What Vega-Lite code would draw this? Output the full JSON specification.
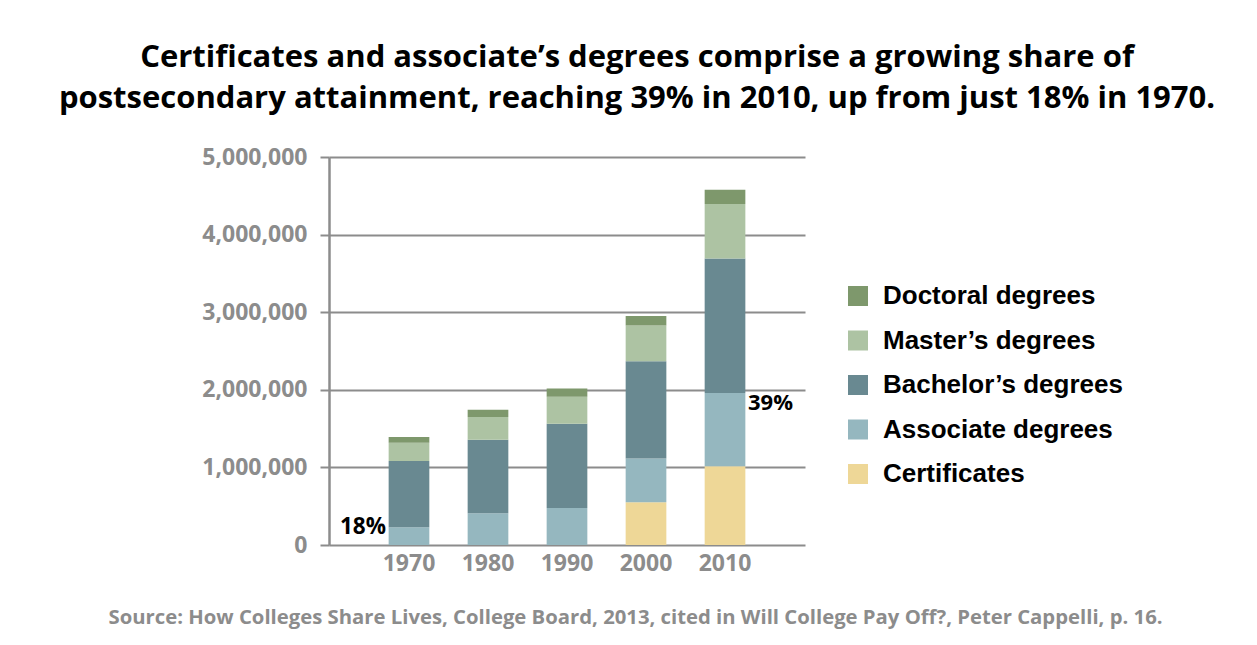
{
  "$schema": "https://vega.github.io/schema/vega-lite/v6.json",
  "autosize": {"type": "none"},
  "width": 476,
  "height": 388,
  "padding": {"left": 329, "top": 157, "right": 452, "bottom": 100},
  "background": "white",
  "title": {
    "text": ["Certificates and associate’s degrees comprise a growing share of", "postsecondary attainment, reaching 39% in 2010, up from just 18% in 1970."],
    "anchor": "middle",
    "frame": "group",
    "dx": 70,
    "offset": 31,
    "font": "Open Sans",
    "fontWeight": "bold",
    "fontSize": 31,
    "lineHeight": 41,
    "color": "black"
  },
  "config": {
    "view": {"stroke": null},
    "legend": {"padding": 0}
  },
  "layer": [
    {
      "data": {
        "values": [
          {"year": "1970", "degree": "Associate degrees", "rank": 2, "count": 228000},
          {"year": "1970", "degree": "Bachelor’s degrees", "rank": 3, "count": 853000},
          {"year": "1970", "degree": "Master’s degrees", "rank": 4, "count": 237000},
          {"year": "1970", "degree": "Doctoral degrees", "rank": 5, "count": 73000},
          {"year": "1980", "degree": "Associate degrees", "rank": 2, "count": 409000},
          {"year": "1980", "degree": "Bachelor’s degrees", "rank": 3, "count": 948000},
          {"year": "1980", "degree": "Master’s degrees", "rank": 4, "count": 292000},
          {"year": "1980", "degree": "Doctoral degrees", "rank": 5, "count": 95000},
          {"year": "1990", "degree": "Associate degrees", "rank": 2, "count": 478000},
          {"year": "1990", "degree": "Bachelor’s degrees", "rank": 3, "count": 1085000},
          {"year": "1990", "degree": "Master’s degrees", "rank": 4, "count": 349000},
          {"year": "1990", "degree": "Doctoral degrees", "rank": 5, "count": 104000},
          {"year": "2000", "degree": "Certificates", "rank": 1, "count": 551000},
          {"year": "2000", "degree": "Associate degrees", "rank": 2, "count": 564000},
          {"year": "2000", "degree": "Bachelor’s degrees", "rank": 3, "count": 1254000},
          {"year": "2000", "degree": "Master’s degrees", "rank": 4, "count": 460000},
          {"year": "2000", "degree": "Doctoral degrees", "rank": 5, "count": 121000},
          {"year": "2010", "degree": "Certificates", "rank": 1, "count": 1016000},
          {"year": "2010", "degree": "Associate degrees", "rank": 2, "count": 944000},
          {"year": "2010", "degree": "Bachelor’s degrees", "rank": 3, "count": 1731000},
          {"year": "2010", "degree": "Master’s degrees", "rank": 4, "count": 702000},
          {"year": "2010", "degree": "Doctoral degrees", "rank": 5, "count": 185000}
        ]
      },
      "mark": {"type": "bar"},
      "encoding": {
        "x": {
          "field": "year",
          "type": "ordinal",
          "scale": {"paddingInner": 0.485, "paddingOuter": 0.755},
          "axis": {
            "title": "Source: How Colleges Share Lives, College Board, 2013, cited in Will College Pay Off?, Peter Cappelli, p. 16.",
            "titleX": 306,
            "titleY": 62,
            "titleAnchor": "middle",
            "titleAlign": "center",
            "titleFont": "Open Sans",
            "titleFontSize": 20.3,
            "titleFontWeight": "bold",
            "titleColor": "#8c8c8c",
            "labelAngle": 0,
            "labelFont": "Open Sans",
            "labelFontWeight": "bold",
            "labelFontSize": 23,
            "labelColor": "#8c8c8c",
            "labelPadding": 7,
            "ticks": false,
            "domain": false
          }
        },
        "y": {
          "field": "count",
          "type": "quantitative",
          "stack": "zero",
          "scale": {"domain": [0, 5000000], "nice": false},
          "axis": {
            "title": null,
            "values": [0, 500000, 1000000, 1500000, 2000000, 2500000, 3000000, 3500000, 4000000, 4500000, 5000000],
            "labelExpr": "datum.value % 1000000 === 0 ? format(datum.value, ',') : ''",
            "labelFont": "Open Sans",
            "labelFontWeight": "bold",
            "labelFontSize": 23,
            "labelColor": "#8c8c8c",
            "labelPadding": 13,
            "tickSize": 9,
            "tickColor": "#8c8c8c",
            "tickWidth": 2,
            "domainColor": "#8c8c8c",
            "domainWidth": 2.5,
            "gridColor": {"condition": {"test": "datum.value % 1000000 === 0", "value": "#8c8c8c"}, "value": "#b5b5b5"},
            "gridWidth": {"condition": {"test": "datum.value % 1000000 === 0", "value": 2.2}, "value": 1.5}
          }
        },
        "color": {
          "field": "degree",
          "type": "nominal",
          "scale": {
            "domain": ["Doctoral degrees", "Master’s degrees", "Bachelor’s degrees", "Associate degrees", "Certificates"],
            "range": ["#7e986c", "#adc3a3", "#698991", "#95b7bf", "#eed797"]
          },
          "legend": {
            "title": null,
            "orient": "none",
            "legendX": 516,
            "legendY": 126,
            "symbolType": "square",
            "symbolSize": 400,
            "symbolStrokeWidth": 0,
            "symbolOpacity": 1,
            "labelFont": "Liberation Sans",
            "labelFontWeight": "bold",
            "labelFontSize": 26,
            "labelColor": "black",
            "labelOffset": 12,
            "labelLimit": 400,
            "rowPadding": 18.5
          }
        },
        "order": {"field": "rank", "type": "quantitative", "sort": "ascending"}
      }
    },
    {
      "data": {"values": [{"year": "1970", "count": 233000, "label": "18%"}]},
      "mark": {"type": "text", "align": "right", "baseline": "middle", "dx": -23, "font": "Open Sans", "fontWeight": "bold", "fontSize": 22.5, "color": "black"},
      "encoding": {
        "x": {"field": "year", "type": "ordinal"},
        "y": {"field": "count", "type": "quantitative"},
        "text": {"field": "label"}
      }
    },
    {
      "data": {"values": [{"year": "2010", "count": 1835000, "label": "39%"}]},
      "mark": {"type": "text", "align": "left", "baseline": "middle", "dx": 23, "font": "Open Sans", "fontWeight": "bold", "fontSize": 22, "color": "black"},
      "encoding": {
        "x": {"field": "year", "type": "ordinal"},
        "y": {"field": "count", "type": "quantitative"},
        "text": {"field": "label"}
      }
    }
  ]
}
